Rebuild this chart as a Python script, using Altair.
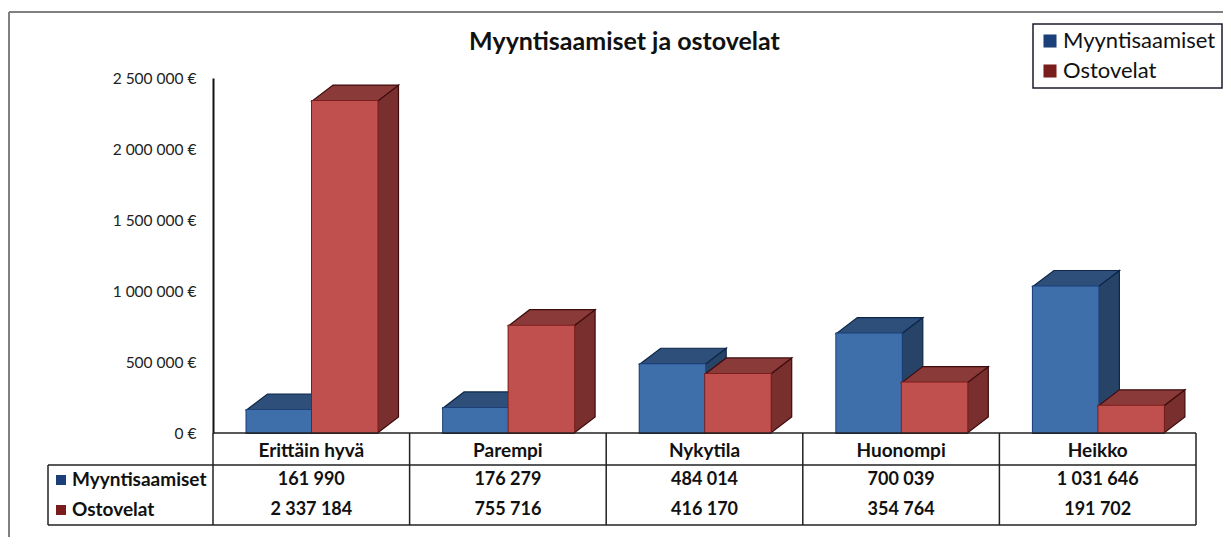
import altair as alt
import pandas as pd

TITLE = "Myyntisaamiset ja ostovelat"
categories = ["Erittäin hyvä", "Parempi", "Nykytila", "Huonompi", "Heikko"]
series_names = ["Myyntisaamiset", "Ostovelat"]
myyntisaamiset = [161990, 176279, 484014, 700039, 1031646]
ostovelat = [2337184, 755716, 416170, 354764, 191702]
tick_values = [0, 500000, 1000000, 1500000, 2000000, 2500000]

FONT = "Lato"
FRONT = ["#3F6FAB", "#C0504D"]
TOP = ["#2D4F7A", "#8A3A38"]
SIDE = ["#274468", "#782F2D"]
EDGE = ["#1B3F78", "#7A1D1D"]
DARK = ["#0E2648", "#3E0C0C"]

# plot-area geometry (pixels), and 3D depth expressed in data units
W, H = 983, 355
STEP = W / 5
BAR_START = 33.5 / STEP
BAR_W = 65.5 / STEP
DX = 21 / STEP
DY = 16 * 2500000 / H
LEFT_TABLE = -165 / STEP

x_scale = alt.Scale(domain=[0, 5], nice=False, zero=False)
y_scale = alt.Scale(domain=[0, 2500000], nice=False)
y_axis = alt.Axis(
    values=tick_values, title=None, grid=False, ticks=False,
    domainColor="#111111", domainWidth=2, labelPadding=17,
    labelFont=FONT, labelFontSize=15.5, labelColor="#222222",
    labelExpr="replace(format(datum.value, ',d'), /,/g, ' ') + ' €'")
X = alt.X("x:Q", scale=x_scale, axis=None)
Y = alt.Y("y:Q", scale=y_scale, axis=y_axis, stack=None)
color_scale = alt.Scale(domain=series_names, range=EDGE)

layers = []

for s, values in enumerate([myyntisaamiset, ostovelat]):
    bars, top, side = [], [], []
    for i, (cat, v) in enumerate(zip(categories, values)):
        x0 = i + BAR_START + s * BAR_W
        x1 = x0 + BAR_W
        bars.append(dict(cat=cat, series=series_names[s], x=x0, x2=x1, y=0, y2=v))
        top += [dict(cat=cat, x=x0, y=v, y2=v),
                dict(cat=cat, x=x0 + DX, y=v, y2=v + DY),
                dict(cat=cat, x=x1, y=v, y2=v + DY),
                dict(cat=cat, x=x1 + DX, y=v + DY, y2=v + DY)]
        side += [dict(cat=cat, x=x1, y=0, y2=v),
                 dict(cat=cat, x=x1 + DX, y=DY, y2=v + DY)]
    bdf = pd.DataFrame(bars)
    layers.append(alt.Chart(pd.DataFrame(side)).mark_area(
        color=SIDE[s], stroke=DARK[s], strokeWidth=1.2).encode(
        x=X, y=Y, y2="y2:Q", detail="cat:N"))
    layers.append(alt.Chart(pd.DataFrame(top)).mark_area(
        color=TOP[s], stroke=DARK[s], strokeWidth=1.2).encode(
        x=X, y=Y, y2="y2:Q", detail="cat:N"))
    layers.append(alt.Chart(bdf).mark_bar(strokeWidth=2).encode(
        x=X, x2="x2:Q", y=Y, y2="y2:Q",
        color=alt.Color("series:N", scale=color_scale, legend=alt.Legend(
            title=None, orient="none", legendX=820, legendY=-54,
            symbolType="square", symbolSize=170, symbolStrokeWidth=0,
            labelFont=FONT, labelFontSize=22, labelColor="#111111",
            labelOffset=2, rowPadding=8, padding=6, offset=0,
            fillColor="white", strokeColor="#1a1a2e")),
        stroke=alt.Stroke("series:N", scale=color_scale, legend=None)))
    layers.append(alt.Chart(bdf).mark_bar(color=FRONT[s]).encode(
        x=X, x2="x2:Q", y=Y, y2="y2:Q"))

# table grid
hl = pd.DataFrame({"x": [0, LEFT_TABLE, LEFT_TABLE], "x2": [5, 5, 5], "py": [355, 387, 447]})
for _, r in hl.iterrows():
    layers.append(alt.Chart(pd.DataFrame([r])).mark_rule(color="#222222", strokeWidth=1.5).encode(
        x=X, x2="x2:Q", y=alt.value(float(r.py))))
vl = pd.DataFrame({"x": list(range(6))})
layers.append(alt.Chart(vl).mark_rule(color="#222222", strokeWidth=1.5).encode(
    x=X, y=alt.value(355), y2=alt.value(447)))
layers.append(alt.Chart(pd.DataFrame({"x": [LEFT_TABLE]})).mark_rule(color="#222222", strokeWidth=1.5).encode(
    x=X, y=alt.value(387), y2=alt.value(447)))

# table text
def fmt(v):
    return f"{v:,}".replace(",", " ")

text_kw = dict(font=FONT, fontWeight="bold", color="#111111", baseline="middle")
centres = [i + 0.5 for i in range(5)]
layers.append(alt.Chart(pd.DataFrame({"x": centres, "t": categories})).mark_text(fontSize=19, **text_kw).encode(
    x=X, y=alt.value(373), text="t:N"))
for rowy, values in [(402, myyntisaamiset), (432, ostovelat)]:
    layers.append(alt.Chart(pd.DataFrame({"x": centres, "t": [fmt(v) for v in values]})).mark_text(fontSize=18, **text_kw).encode(
        x=X, y=alt.value(rowy), text="t:N"))
for rowy, name, col in [(402, series_names[0], EDGE[0]), (432, series_names[1], EDGE[1])]:
    layers.append(alt.Chart(pd.DataFrame({"x": [-141 / STEP], "t": [name]})).mark_text(align="left", fontSize=19, **text_kw).encode(
        x=X, y=alt.value(rowy), text="t:N"))
    layers.append(alt.Chart(pd.DataFrame({"x": [-152 / STEP]})).mark_point(
        shape="square", filled=True, size=100, opacity=1, color=col).encode(
        x=X, y=alt.value(rowy)))

# outer frame: top and left edge only
layers.append(alt.Chart(pd.DataFrame({"x": [0]})).mark_rule(color="#808080", strokeWidth=2).encode(
    x=alt.value(-204), x2=alt.value(1010), y=alt.value(-66)))
layers.append(alt.Chart(pd.DataFrame({"x": [0]})).mark_rule(color="#808080", strokeWidth=2).encode(
    x=alt.value(-204), y=alt.value(-66), y2=alt.value(459)))

chart = alt.layer(*layers).resolve_scale(color="shared").properties(
    width=W, height=H,
    title=alt.TitleParams(TITLE, font=FONT, fontSize=25, fontWeight="bold", color="#111111",
                          anchor="middle", dx=-80, offset=0, dy=44),
    padding={"left": 205, "top": 70, "right": 27, "bottom": 104},
    autosize=alt.AutoSizeParams(type="none"),
).configure_view(stroke=None, clip=False).configure_legend(strokeWidth=1.5)

chart.save("out.html", embed_options={"renderer": "svg", "actions": False})
